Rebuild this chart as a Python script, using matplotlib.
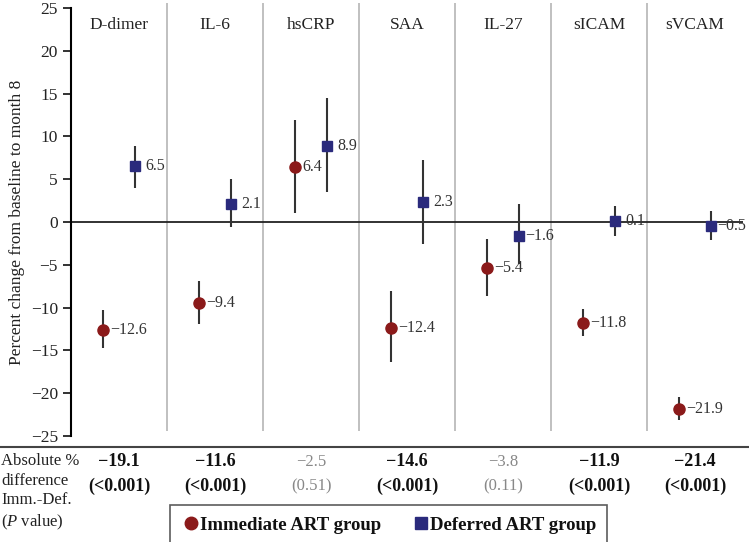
import matplotlib.pyplot as plt
from matplotlib.lines import Line2D

plt.rcParams['font.family'] = ['Liberation Serif', 'DejaVu Serif']
plt.rcParams['axes.unicode_minus'] = True
plt.rcParams['mathtext.fontset'] = 'custom'
plt.rcParams['mathtext.it'] = 'Liberation Serif:italic'
plt.rcParams['mathtext.rm'] = 'Liberation Serif'

# data
markers = ['D-dimer', 'IL-6', 'hsCRP', 'SAA', 'IL-27', 'sICAM', 'sVCAM']
imm_val = [-12.6, -9.4, 6.4, -12.4, -5.4, -11.8, -21.9]
imm_lo = [-14.7, -11.9, 1.1, -16.4, -8.6, -13.3, -23.1]
imm_hi = [-10.3, -6.9, 11.9, -8.0, -2.0, -10.2, -20.4]
def_val = [6.5, 2.1, 8.9, 2.3, -1.6, 0.1, -0.5]
def_lo = [4.0, -0.6, 3.5, -2.6, -4.9, -1.6, -2.1]
def_hi = [8.9, 5.0, 14.5, 7.2, 2.1, 1.9, 1.3]
abs_diff = ['\u221219.1', '\u221211.6', '\u22122.5', '\u221214.6', '\u22123.8', '\u221211.9', '\u221221.4']
p_vals = ['(<0.001)', '(<0.001)', '(0.51)', '(<0.001)', '(0.11)', '(<0.001)', '(<0.001)']
signif = [True, True, False, True, False, True, True]

red = '#8b1a1a'
navy = '#2a2a7c'

fig = plt.figure(figsize=(7.49, 5.42), dpi=100)
ax = fig.add_axes([0.0948, 0.1845, 0.8972, 0.81])

ax.set_xlim(-0.5, 6.5)
ax.set_ylim(-25.7, 25.6)

# panel dividers
for i in range(1, 7):
    ax.vlines(i - 0.5, -24.4, 25.6, color='#bbbbbb', lw=1.3)
ax.axhline(0, color='#222222', lw=1.3)

for i, name in enumerate(markers):
    xi = i - 0.17
    xd = i + 0.17
    ax.vlines(xi, imm_lo[i], imm_hi[i], color='#333333', lw=1.5)
    ax.vlines(xd, def_lo[i], def_hi[i], color='#333333', lw=1.5)
    ax.plot(xi, imm_val[i], 'o', color=red, ms=8, zorder=3)
    ax.plot(xd, def_val[i], 's', color=navy, ms=7.5, zorder=3)
    ax.annotate(f'{imm_val[i]:.1f}'.replace('-', '\u2212'), (xi, imm_val[i]),
                xytext=(5.5, 0), textcoords='offset points', va='center', fontsize=11.5, color='#333333')
    off = 7.5 if def_val[i] > 0 else 4.5
    ax.annotate(f'{def_val[i]:.1f}'.replace('-', '\u2212'), (xd, def_val[i]),
                xytext=(off, 0), textcoords='offset points', va='center', fontsize=11.5,
                color='#333333', annotation_clip=False)
    ax.text(i, 23.0, name, ha='center', va='center', fontsize=12.5, color='#222222')

ax.set_yticks(range(-25, 26, 5))
ax.set_xticks([])
ax.tick_params(axis='y', labelsize=12.5, length=6, width=1.3, colors='#222222')
for s in ['top', 'right', 'bottom']:
    ax.spines[s].set_visible(False)
ax.spines['left'].set_bounds(-25, 25)
ax.spines['left'].set_linewidth(1.5)
ax.set_ylabel('Percent change from baseline to month 8', fontsize=12.5, color='#222222')

# separator line and table below
fig.add_artist(Line2D([0, 1], [1 - 447 / 542] * 2, color='#444444', lw=1.5))
fig.text(0.002, 1 - 453 / 542, 'Absolute %\ndifference\nImm.-Def.\n($\\mathit{P}$ value)', fontsize=12,
         va='top', linespacing=1.3, color='#222222')

for i in range(7):
    xf = (71 + 96 * i + 48) / 749
    if signif[i]:
        kw = dict(fontweight='bold', color='#111111', fontsize=13)
    else:
        kw = dict(color='#888888', fontsize=12)
    fig.text(xf, 1 - 462 / 542, abs_diff[i], ha='center', va='center', **kw)
    fig.text(xf, 1 - 486 / 542, p_vals[i], ha='center', va='center', **kw)

handles = [Line2D([], [], marker='o', color=red, ls='none', ms=9),
           Line2D([], [], marker='s', color=navy, ls='none', ms=8)]
leg = fig.legend(handles, ['Immediate ART group', 'Deferred ART group'], loc='center',
                 bbox_to_anchor=(0.519, 1 - 525 / 542), ncol=2, frameon=True, fancybox=False,
                 edgecolor='#333333', handletextpad=0.0, handlelength=1.0, columnspacing=1.6,
                 borderpad=0.6, borderaxespad=0, prop={'weight': 'bold', 'size': 13.5})
leg.get_frame().set_linewidth(1.2)
for t in leg.get_texts():
    t.set_color('#111111')

fig.savefig('out.png', dpi=100)
